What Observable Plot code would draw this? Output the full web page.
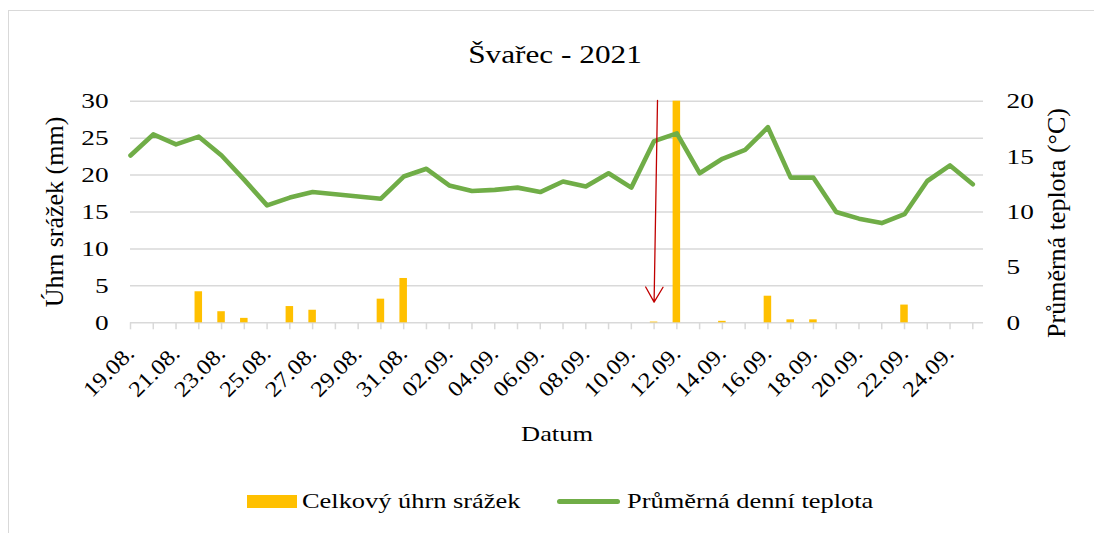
<!DOCTYPE html>
<html>
<head>
<meta charset="utf-8">
<script src="https://cdn.jsdelivr.net/npm/d3@7"></script>
<script src="https://cdn.jsdelivr.net/npm/@observablehq/plot@0.6"></script>
<style>
html, body { margin: 0; padding: 0; background: #fff; overflow: hidden; }
#wrap { position: relative; width: 1094px; height: 533px; font-family: "Liberation Serif", "Times New Roman", serif; color: #000; overflow: hidden; }
#frame { position: absolute; left: 8px; top: 10px; width: 1300px; height: 700px; border-top: 1.5px solid #d9d9d9; border-left: 1.5px solid #d9d9d9; }
#chart { position: absolute; left: 0; top: 0; }
.t { position: absolute; white-space: nowrap; line-height: 1; }
</style>
</head>
<body>
<div id="wrap">
  <div id="frame"></div>
  <div id="chart"></div>
  <div class="t" id="title" style="left:555px; top:41.8px; font-size:25px; transform: translateX(-50%) scaleX(1.25);">Švařec - 2021</div>
  <div class="t" id="xtitle" style="left:557px; top:422.6px; font-size:22px; transform: translateX(-50%) scaleX(1.2);">Datum</div>
  <div class="t" id="ytitle" style="left:55px; top:212px; font-size:26px; transform: translate(-50%,-50%) rotate(-90deg);">Úhrn srážek (mm)</div>
  <div class="t" id="y2title" style="left:1056.7px; top:222.5px; font-size:26px; transform: translate(-50%,-50%) rotate(-90deg);">Průměrná teplota (°C)</div>
  <div style="position:absolute; left:247px; top:495px; width:50px; height:13px; background:#ffc000;"></div>
  <div class="t" style="left:302px; top:489.6px; font-size:22px; transform-origin: 0 50%; transform: scaleX(1.2);">Celkový úhrn srážek</div>
  <div style="position:absolute; left:557px; top:498.5px; width:63px; height:5px; border-radius:2.5px; background:#70ad47;"></div>
  <div class="t" style="left:627px; top:489.6px; font-size:22px; transform-origin: 0 50%; transform: scaleX(1.2);">Průměrná denní teplota</div>
</div>
<script>
// Category labels (dates)
const dates = [
  "19.08.", "20.08.", "21.08.", "22.08.", "23.08.", "24.08.", "25.08.", "26.08.", "27.08.", "28.08.",
  "29.08.", "30.08.", "31.08.", "01.09.", "02.09.", "03.09.", "04.09.", "05.09.", "06.09.", "07.09.",
  "08.09.", "09.09.", "10.09.", "11.09.", "12.09.", "13.09.", "14.09.", "15.09.", "16.09.", "17.09.",
  "18.09.", "19.09.", "20.09.", "21.09.", "22.09.", "23.09.", "24.09.", "25.09."
];
// Celkový úhrn srážek (mm)
const precip = [
  0, 0, 0, 4.2, 1.5, 0.6, 0, 2.2, 1.7, 0,
  0, 3.2, 6.0, 0, 0, 0, 0, 0, 0, 0,
  0, 0, 0, 0.1, 30, 0, 0.2, 0, 3.6, 0.4,
  0.4, 0, 0, 0, 2.4, 0, 0, 0
];
// Průměrná denní teplota (°C)
const temp = [
  15.1, 17.0, 16.1, 16.8, 15.1, 12.9, 10.6, 11.3, 11.8, 11.6,
  11.4, 11.2, 13.2, 13.9, 12.4, 11.9, 12.0, 12.2, 11.8, 12.75,
  12.3, 13.5, 12.2, 16.4, 17.1, 13.5, 14.8, 15.6, 17.65, 13.1,
  13.1, 10.0, 9.4, 9.0, 9.8, 12.8, 14.2, 12.5
];
// Axis ticks
const precipTicks = [0, 5, 10, 15, 20, 25, 30];
const tempTicks = [0, 5, 10, 15, 20];
const labelDates = dates.filter((d, i) => i % 2 === 0);
// Arrow annotation (pointing down at 11.09.), in mm units of the left axis
const arrowDate = "11.09.";
const arrowFromMm = 30.1;
const arrowToMm = 2.8;

const k = 30 / 20; // right axis (°C) -> left axis (mm)
const rows = dates.map((d, i) => ({i, date: d, p: precip[i], t: temp[i]}));
const ai = dates.indexOf(arrowDate);
const arrows = [{x1: ai + 0.15, x2: ai, y1: arrowFromMm, y2: arrowToMm}];

const chart = Plot.plot({
  width: 1094,
  height: 533,
  marginLeft: 130,
  marginRight: 111,
  marginTop: 100.7,
  marginBottom: 210.7,
  style: {fontFamily: "'Liberation Serif', 'Times New Roman', serif", color: "#000", background: "transparent", overflow: "visible"},
  x: {type: "linear", domain: [0, 37.47]},
  y: {domain: [0, 30]},
  marks: [
    Plot.gridY(precipTicks, {stroke: "#d9d9d9", strokeOpacity: 1, strokeWidth: 1.5}),
    Plot.axisX(d3.range(dates.length), {tickSize: 7, stroke: "#d9d9d9", strokeWidth: 1.5, tickFormat: () => "", label: null}),
    Plot.axisX(labelDates.map(d => dates.indexOf(d)), {tickSize: 0, tickPadding: 27, tickRotate: -45, lineAnchor: "middle", textAnchor: "end", dx: 0, tickFormat: i => dates[i], fontSize: 22, label: null}),
    Plot.axisY(precipTicks, {anchor: "left", tickSize: 0, tickPadding: 22, fontSize: 22, label: null}),
    Plot.axisY(tempTicks.map(v => v * k), {anchor: "right", tickSize: 0, tickPadding: 23, tickFormat: v => Math.round(v / k), fontSize: 22, label: null}),
    Plot.rect(rows, {x1: d => d.i - 0.165, x2: d => d.i + 0.165, y1: 0, y2: "p", fill: "#ffc000"}),
    Plot.line(rows, {x: "i", y: d => d.t * k, stroke: "#70ad47", strokeWidth: 4.6, strokeLinejoin: "round", strokeLinecap: "round"}),
    Plot.arrow(arrows, {x1: "x1", y1: "y1", x2: "x2", y2: "y2", stroke: "#c00000", strokeWidth: 1.3, headLength: 20, headAngle: 60})
  ]
});
document.getElementById("chart").appendChild(chart);

// widen horizontal glyphs slightly to match the reference's typography
function stretch(sel, f) {
  chart.querySelectorAll(sel).forEach(t => {
    const L = t.getComputedTextLength();
    if (L > 0) {
      t.setAttribute("textLength", (L * f).toFixed(2));
      t.setAttribute("lengthAdjust", "spacingAndGlyphs");
    }
  });
}
stretch('g[aria-label="y-axis tick label"] text', 1.24);
stretch('g[aria-label="x-axis tick label"] text', 1.12);
</script>
</body>
</html>
